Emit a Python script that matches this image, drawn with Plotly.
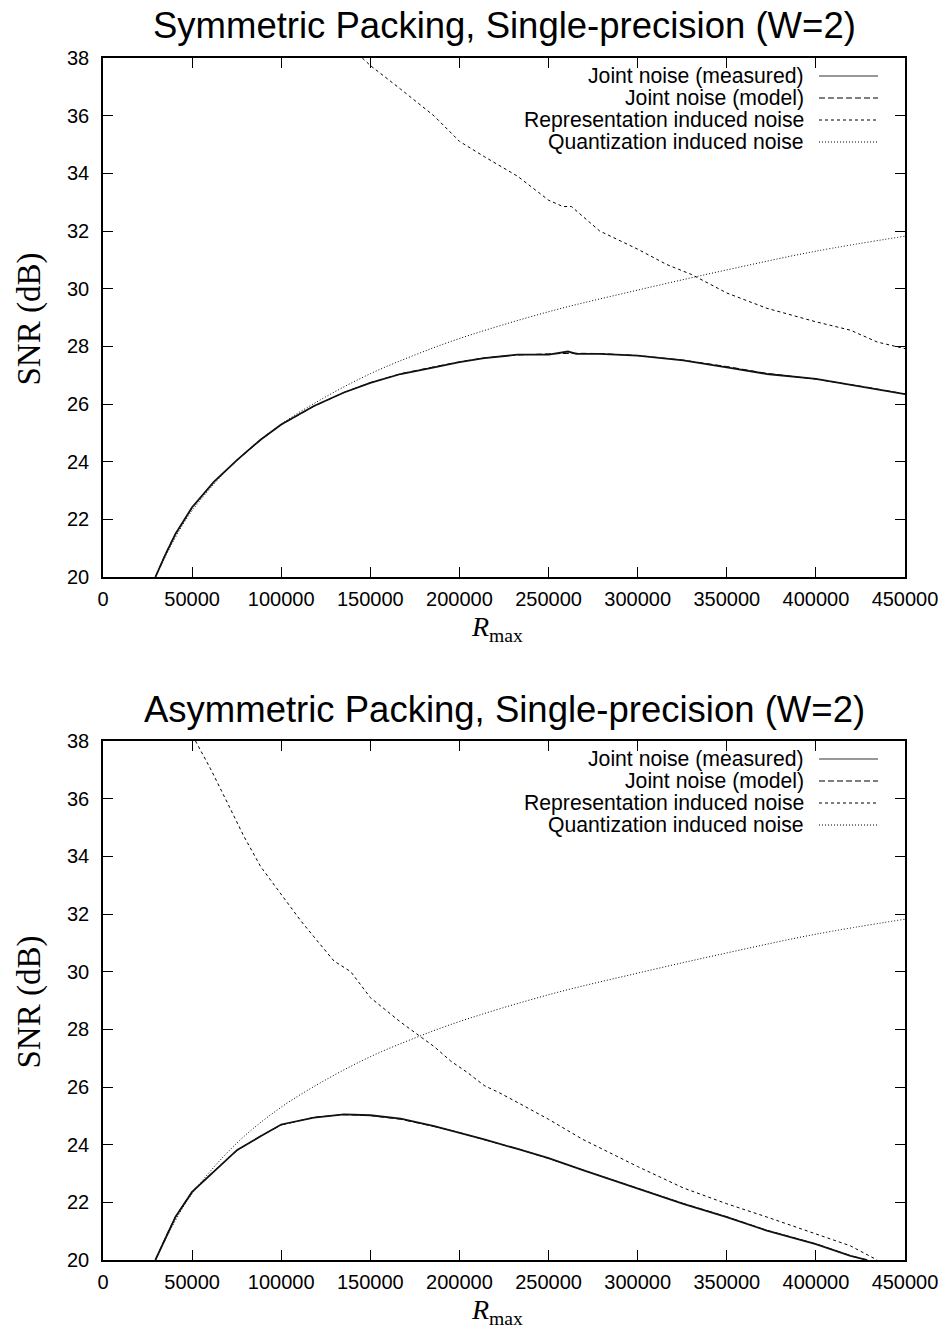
import plotly.graph_objects as go

# ---------------- data ----------------
# Symmetric packing (top panel)
sym_joint_x = [29400, 35000, 40640, 50000, 62200, 75300, 88400, 100000, 118350, 135200,
               150000, 167000, 185800, 200000, 213900, 232600, 250000, 260900, 265600,
               278700, 300000, 325600, 350000, 372500, 400000, 428800, 450000]
sym_joint_meas = [20.0, 20.78, 21.49, 22.42, 23.30, 24.06, 24.76, 25.29, 25.93, 26.40,
                  26.73, 27.04, 27.27, 27.45, 27.59, 27.71, 27.71, 27.82, 27.74,
                  27.74, 27.68, 27.51, 27.27, 27.04, 26.87, 26.57, 26.34]
sym_joint_model = [20.0, 20.80, 21.50, 22.40, 23.30, 24.05, 24.75, 25.28, 25.92, 26.40,
                   26.74, 27.05, 27.29, 27.46, 27.60, 27.70, 27.74, 27.76, 27.76,
                   27.75, 27.68, 27.52, 27.30, 27.06, 26.86, 26.58, 26.35]

quant_x = [29400, 40000, 50000, 75000, 100000, 125000, 150000, 175000, 200000,
           250000, 300000, 350000, 400000, 450000]
quant_snr = [20.0, 21.3, 22.3, 24.05, 25.3, 26.25, 27.05, 27.7, 28.27,
             29.2, 29.95, 30.65, 31.3, 31.82]

sym_repr_x = [145500, 150000, 167000, 185800, 200000, 213900, 232600, 250000, 258000,
              262800, 278700, 300000, 316200, 330300, 350000, 372500, 400000, 419400,
              434400, 450000]
sym_repr = [38.0, 37.74, 36.92, 35.99, 35.11, 34.58, 33.90, 33.07, 32.85,
            32.85, 32.00, 31.37, 30.84, 30.49, 29.85, 29.32, 28.85, 28.56,
            28.15, 27.92]

# Asymmetric packing (bottom panel)
asym_joint_x = [29400, 35000, 40640, 50000, 62200, 75300, 88400, 100000, 118350, 135200,
                150000, 167000, 185800, 200000, 213900, 232600, 250000, 269300, 300000,
                325600, 350000, 372500, 400000, 419400, 428800]
asym_joint_meas = [20.0, 20.75, 21.49, 22.36, 23.06, 23.82, 24.29, 24.70, 24.94, 25.05,
                   25.02, 24.90, 24.64, 24.41, 24.18, 23.85, 23.53, 23.12, 22.48,
                   21.95, 21.49, 21.02, 20.55, 20.14, 20.0]
asym_joint_model = [20.0, 20.78, 21.50, 22.38, 23.08, 23.80, 24.30, 24.68, 24.95, 25.04,
                    25.01, 24.88, 24.63, 24.42, 24.17, 23.86, 23.52, 23.12, 22.50,
                    21.96, 21.50, 21.03, 20.56, 20.15, 20.0]

asym_repr_x = [51900, 60300, 69700, 79000, 88400, 100000, 110900, 120200, 129600, 139000,
               150000, 167000, 177300, 185800, 195100, 204500, 213900, 222400, 234500,
               250000, 269300, 300000, 325600, 350000, 372500, 400000, 419400, 434400]
asym_repr = [38.0, 37.04, 35.87, 34.70, 33.65, 32.70, 31.77, 31.07, 30.37, 30.0,
             29.10, 28.25, 27.80, 27.40, 26.90, 26.50, 26.05, 25.80, 25.40,
             24.88, 24.18, 23.24, 22.50, 21.95, 21.49, 20.90, 20.49, 20.0]

titles = ["Symmetric Packing, Single-precision (W=2)",
          "Asymmetric Packing, Single-precision (W=2)"]
legend_names = ["Joint noise (measured)", "Joint noise (model)",
                "Representation induced noise", "Quantization induced noise"]
x_ticks = [0, 50000, 100000, 150000, 200000, 250000, 300000, 350000, 400000, 450000]
y_ticks = [20, 22, 24, 26, 28, 30, 32, 34, 36, 38]

# ---------------- figure ----------------
W, H = 947, 1330
fig = go.Figure()

styles = [dict(color="#111111", width=1.8, dash="solid"),
          dict(color="#000000", width=1.0, dash="6px,3px"),
          dict(color="#000000", width=1.0, dash="3px,3px"),
          dict(color="#000000", width=1.0, dash="1px,2px")]

panels = [
    ("x", "y", sym_joint_x, sym_joint_meas, sym_joint_model, sym_repr_x, sym_repr),
    ("x2", "y2", asym_joint_x, asym_joint_meas, asym_joint_model, asym_repr_x, asym_repr),
]
for xa, ya, jx, jm, jmod, rx, rv in panels:
    fig.add_trace(go.Scatter(x=quant_x, y=quant_snr, mode="lines", line=styles[3],
                             line_shape="spline", xaxis=xa, yaxis=ya, showlegend=False,
                             name=legend_names[3]))
    fig.add_trace(go.Scatter(x=rx, y=rv, mode="lines", line=styles[2],
                             xaxis=xa, yaxis=ya, showlegend=False, name=legend_names[2]))
    fig.add_trace(go.Scatter(x=jx, y=jmod, mode="lines", line=styles[1],
                             xaxis=xa, yaxis=ya, showlegend=False, name=legend_names[1]))
    fig.add_trace(go.Scatter(x=jx, y=jm, mode="lines", line=styles[0],
                             xaxis=xa, yaxis=ya, showlegend=False, name=legend_names[0]))

# plot area pixel boxes
left, right = 103, 905
tops = [(58, 577), (741, 1260)]

def py(pix):
    return 1 - pix / H

def px(pix):
    return pix / W

axis_common = dict(showline=True, linecolor="black", linewidth=1.5, mirror="ticks",
                   ticks="inside", ticklen=10, tickwidth=1.2, tickcolor="black",
                   showgrid=False, zeroline=False, automargin=False,
                   tickfont=dict(family="Liberation Sans, Arial, sans-serif", size=20,
                                 color="black"))

fig.update_layout(
    xaxis=dict(domain=[px(left), px(right)], anchor="y", range=[0, 450000],
               tickvals=x_ticks, ticktext=[str(v) for v in x_ticks],
               ticklabelstandoff=3, **axis_common),
    yaxis=dict(domain=[py(tops[0][1]), py(tops[0][0])], anchor="x", range=[20, 38],
               tickvals=y_ticks, ticktext=[str(v) for v in y_ticks],
               ticklabelstandoff=8, **axis_common),
    xaxis2=dict(domain=[px(left), px(right)], anchor="y2", range=[0, 450000],
                tickvals=x_ticks, ticktext=[str(v) for v in x_ticks],
                ticklabelstandoff=3, **axis_common),
    yaxis2=dict(domain=[py(tops[1][1]), py(tops[1][0])], anchor="x2", range=[20, 38],
                tickvals=y_ticks, ticktext=[str(v) for v in y_ticks],
                ticklabelstandoff=8, **axis_common),
    width=W, height=H, margin=dict(l=0, r=0, t=0, b=0, autoexpand=False),
    paper_bgcolor="white", plot_bgcolor="white", showlegend=False,
)

annotations = []
shapes = []
for i, (t, b) in enumerate(tops):
    # title
    annotations.append(dict(text=titles[i], xref="paper", yref="paper",
                            x=px((left + right) / 2), y=py(t - 32), xanchor="center",
                            yanchor="middle", showarrow=False,
                            font=dict(family="Liberation Sans, Arial, sans-serif",
                                      size=36.5, color="black")))
    # y label
    annotations.append(dict(text="SNR (dB)", xref="paper", yref="paper",
                            x=px(29), y=py((t + b) / 2 + 2), xanchor="center",
                            yanchor="middle", textangle=-90, showarrow=False,
                            font=dict(family="Liberation Serif, Times New Roman, serif",
                                      size=33, color="black")))
    # x label
    annotations.append(dict(text="<i>R</i><sub>max</sub>", xref="paper", yref="paper",
                            x=px(497), y=py(b + 51), xanchor="center",
                            yanchor="middle", showarrow=False,
                            font=dict(family="Liberation Serif, Times New Roman, serif",
                                      size=28, color="black")))
    # legend (text right, sample after it, as in gnuplot)
    for k, name in enumerate(legend_names):
        yc = t + 18 + 22 * k
        annotations.append(dict(text=name, xref="paper", yref="paper",
                                x=px(806), y=py(yc), xanchor="right", yanchor="middle",
                                showarrow=False,
                                font=dict(family="Liberation Sans, Arial, sans-serif",
                                          size=21.2, color="black")))
        st = styles[k]
        shapes.append(dict(type="line", xref="paper", yref="paper",
                           x0=px(819), x1=px(878), y0=py(yc), y1=py(yc),
                           line=dict(color="#333333" if k == 0 else "black",
                                     width=1.2, dash=st["dash"])))

fig.update_layout(annotations=annotations, shapes=shapes)
fig.write_html("out.html")
